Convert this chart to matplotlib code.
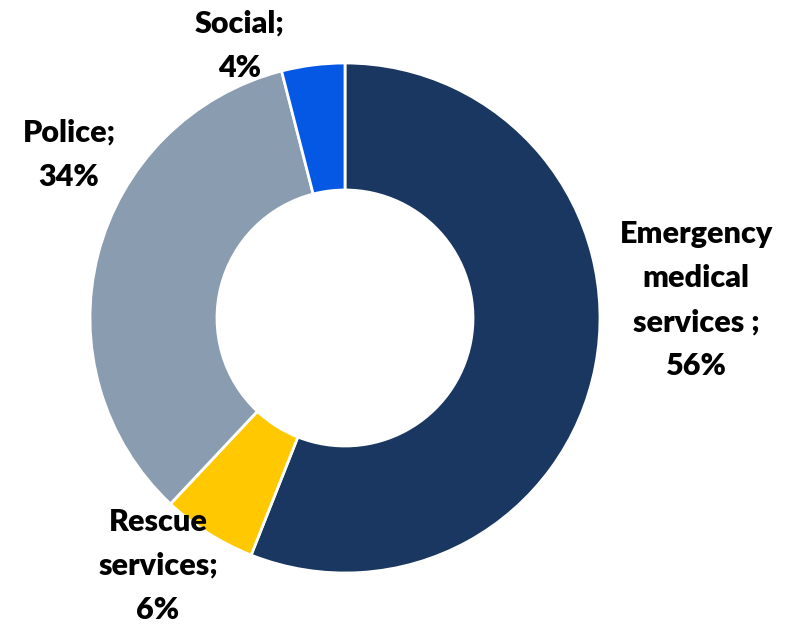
import matplotlib
matplotlib.use("Agg")
import matplotlib.pyplot as plt

# 数据
labels = ["Emergency\nmedical\nservices ;", "Rescue\nservices;", "Police;", "Social;"]
shares = [56, 6, 34, 4]
colors = ["#1A3761", "#FFC800", "#8A9CB0", "#0458E3"]
label_pos = [(696, 324), (158, 58), (69, 469), (240, 578)]

plt.rcParams["font.family"] = ["Lato", "DejaVu Sans"]

fig = plt.figure(figsize=(7.96, 6.24), dpi=100)
ax = fig.add_axes([0, 0, 1, 1])

ax.pie(shares, colors=colors, startangle=90, counterclock=False,
       center=(345, 306), radius=255, frame=True,
       wedgeprops=dict(width=127, edgecolor="white", linewidth=2))
ax.set_xlim(0, 796)
ax.set_ylim(0, 624)
ax.set_aspect("equal")
ax.axis("off")

for lab, val, (x, y) in zip(labels, shares, label_pos):
    ax.text(x, y, f"{lab}\n{val}%", ha="center", va="center",
            fontsize=22, fontweight="heavy", linespacing=1.7, color="black")

fig.savefig("out.png", dpi=100)
